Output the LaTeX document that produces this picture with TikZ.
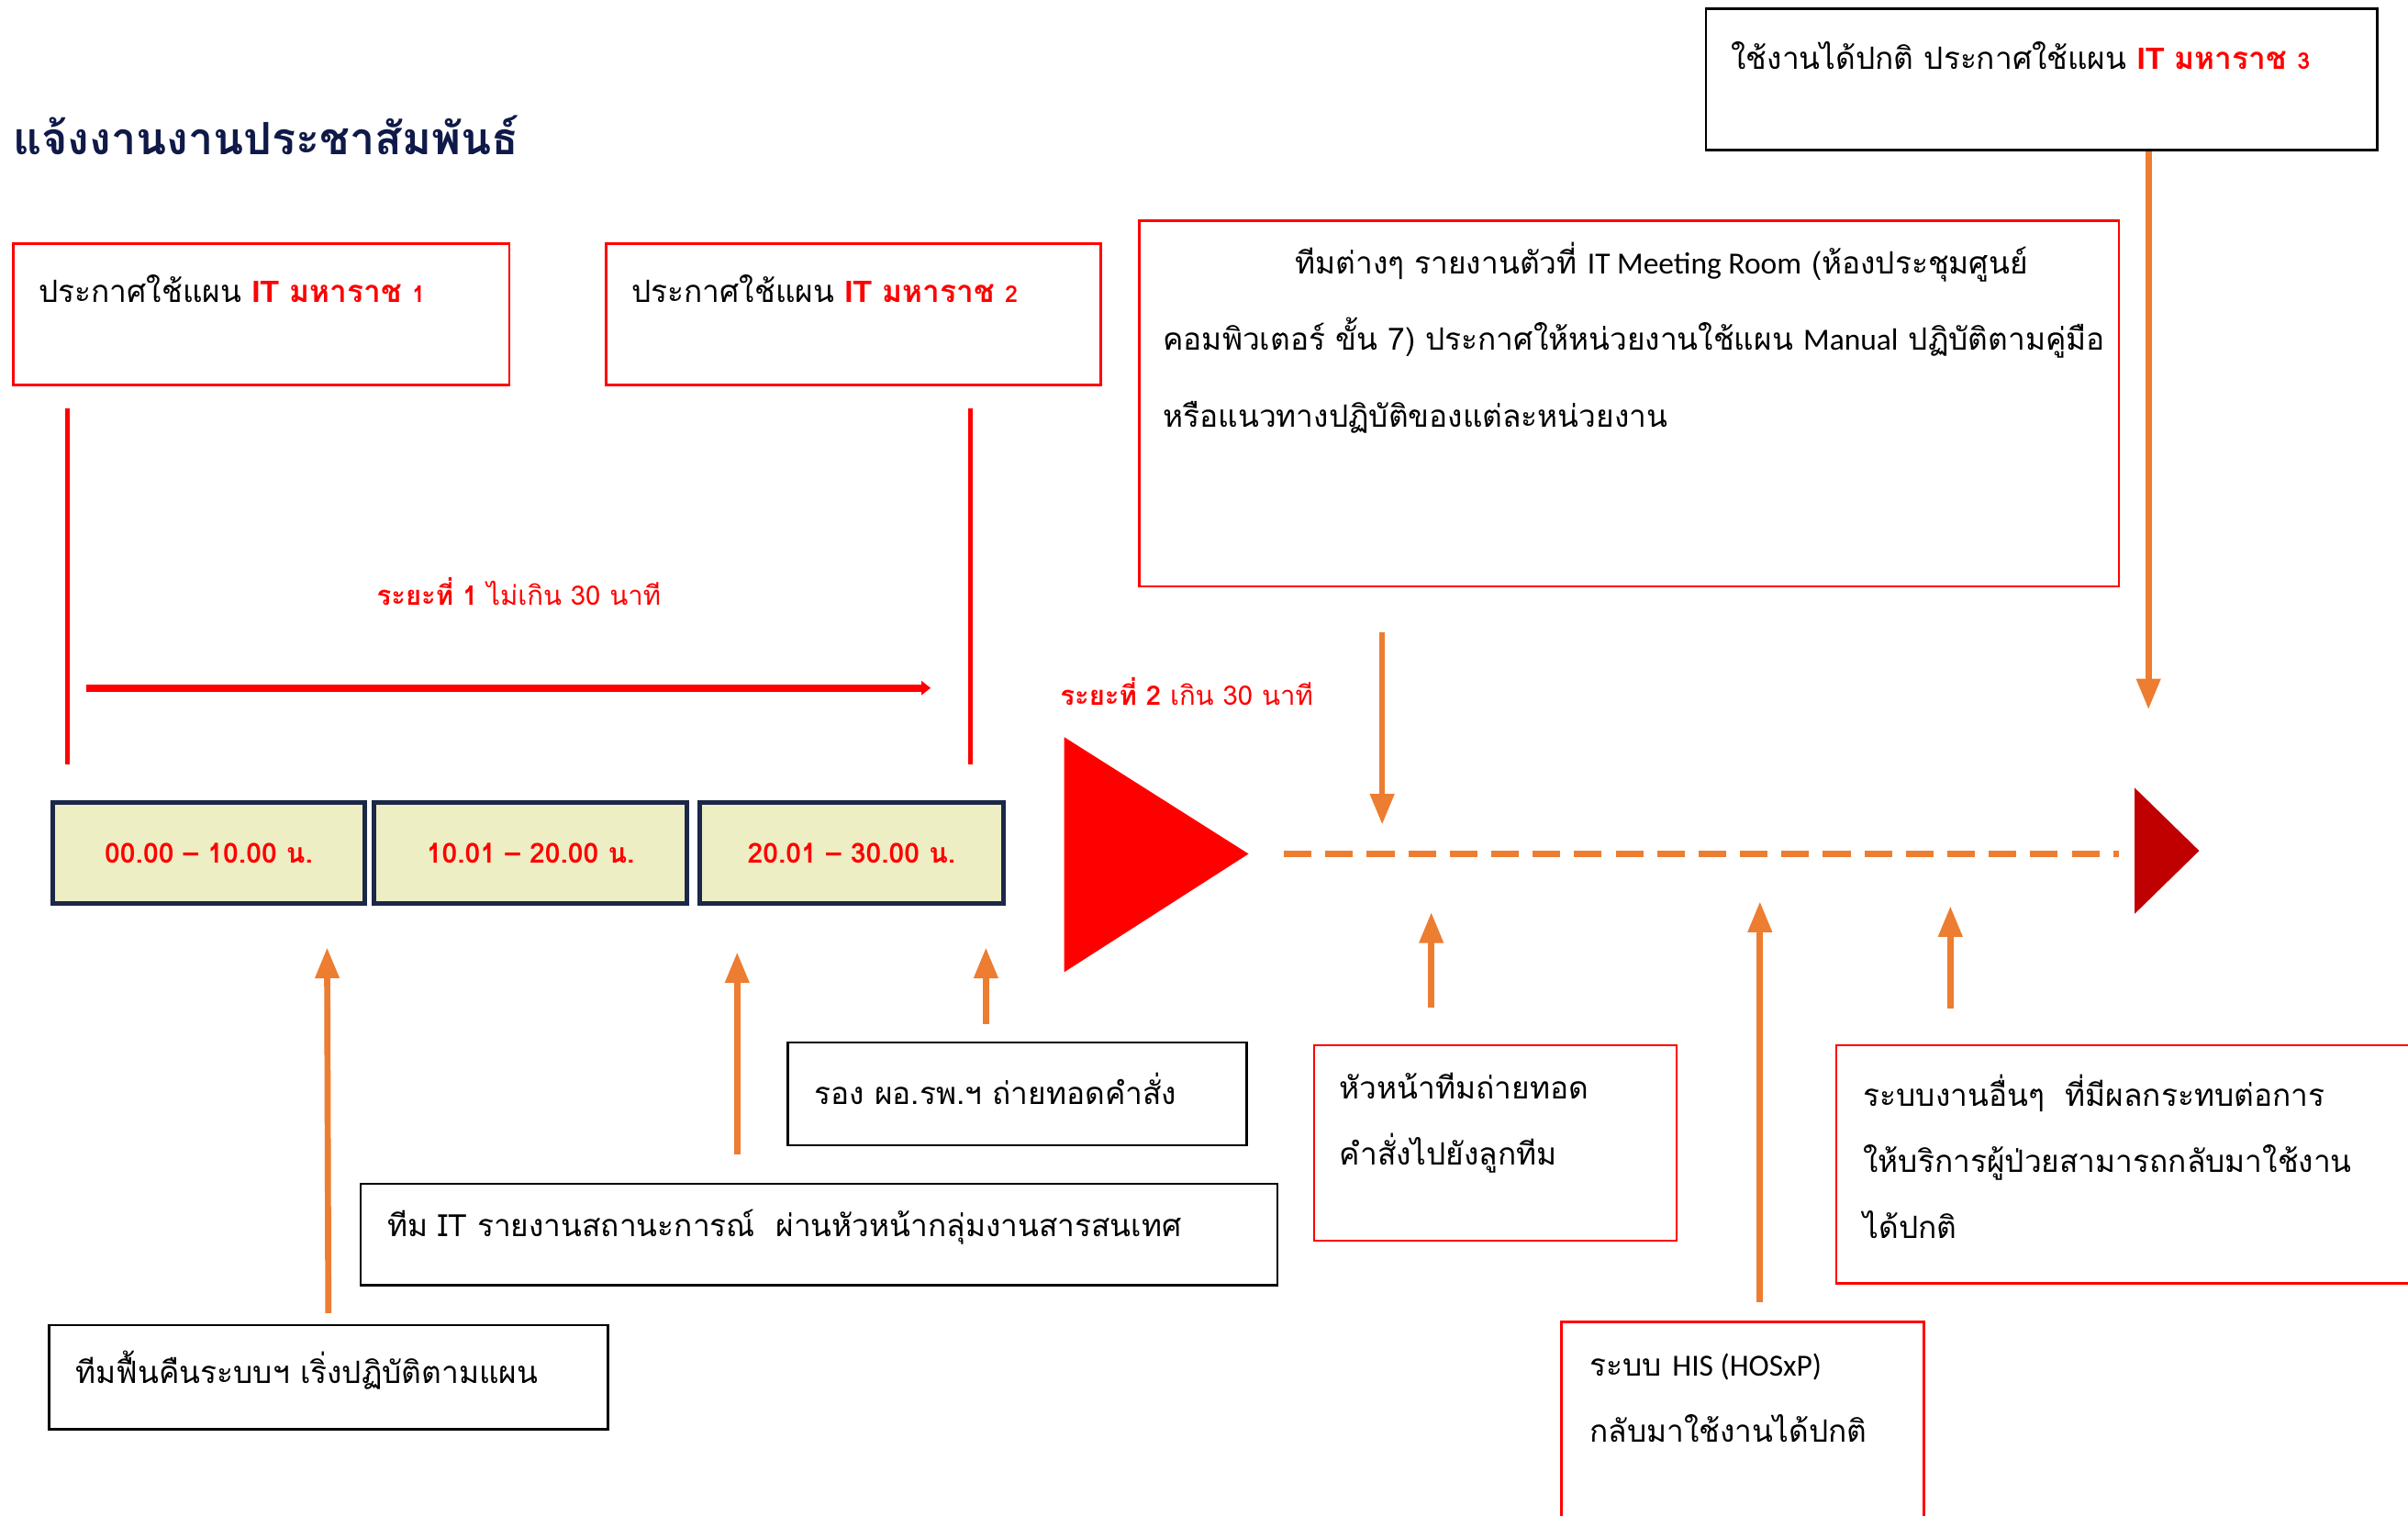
\documentclass[tikz,border=0pt]{standalone}
\usepackage{fontspec}
\setmainfont[Script=Thai]{Loma}
\newfontfamily\latinfont{Carlito}
\newfontfamily\itfont{Liberation Sans}
\usetikzlibrary{arrows.meta,calc}

\definecolor{planred}{RGB}{255,0,0}
\definecolor{arrorange}{RGB}{237,125,49}
\definecolor{darkred}{RGB}{192,0,0}
\definecolor{titlenavy}{RGB}{16,26,72}
\definecolor{slotfill}{RGB}{238,238,196}
\definecolor{slotedge}{RGB}{28,40,72}

\tikzset{every picture/.style={line width=0.75pt}}
\tikzset{
  redbox/.style={draw=planred, line width=1.5pt, inner sep=0pt, anchor=north west},
  blackbox/.style={draw=black, line width=1.6pt, inner sep=0pt, anchor=north west},
  slotbox/.style={draw=slotedge, fill=slotfill, line width=3pt, inner sep=0pt, anchor=north west,
    text=planred, font=\fontsize{18}{20}\selectfont\bfseries},
  txt/.style={anchor=west, inner sep=0pt, align=left, font=\fontsize{20}{43}\selectfont},
  phase/.style={anchor=west, inner sep=0pt, text=planred, font=\fontsize{17.5}{20}\selectfont},
  orarrow/.style={draw=arrorange, line width=4pt, -{Triangle[length=20pt,width=15pt]}},
}
\newcommand{\itplan}[1]{\textcolor{planred}{\bfseries{\itfont IT} มหาราช {\fontsize{15}{15}\selectfont #1}}}

\begin{document}
\begin{tikzpicture}[x=1pt,y=1pt,yscale=-1,xscale=1]
\useasboundingbox (0,0) rectangle (1568,987);

% Title
\node[anchor=west, inner sep=0pt, text=titlenavy, font=\fontsize{29}{32}\selectfont\bfseries] (title) at (8,88) {แจ้งงานงานประชาสัมพันธ์};

%Shape: Rectangle [plan boxes]
\node[redbox, minimum width=323pt, minimum height=92pt] (plan1) at (8,158) {};
\node[redbox, minimum width=322pt, minimum height=92pt] (plan2) at (394,158) {};
\node[blackbox, minimum width=437pt, minimum height=92pt] (plan3) at (1110,5) {};
\node[redbox, minimum width=638pt, minimum height=238pt] (room) at (741,143) {};
% Text Node
\node[txt] (plan1txt) at (25,188) {ประกาศใช้แผน \itplan{1}};
\node[txt] (plan2txt) at (411,188) {ประกาศใช้แผน \itplan{2}};
\node[txt] (plan3txt) at (1127,36) {ใช้งานได้ปกติ ประกาศใช้แผน \itplan{3}};
\node[txt, font=\fontsize{20}{50}\selectfont] (roomtxt) at (757,220) {\hspace*{86pt}ทีมต่างๆ รายงานตัวที่ {\latinfont IT Meeting Room} (ห้องประชุมศูนย์\\คอมพิวเตอร์ ขั้น 7) ประกาศให้หน่วยงานใช้แผน {\latinfont Manual} ปฏิบัติตามคู่มือ\\หรือแนวทางปฏิบัติของแต่ละหน่วยงาน};

% Phase 1 markers
\coordinate (m1top) at (44,266);
\coordinate (m1bot) at (44,498);
\coordinate (m2top) at (632,266);
\coordinate (m2bot) at (632,498);
\draw[planred, line width=3pt] (m1top) -- (m1bot);
\draw[planred, line width=3pt] (m2top) -- (m2bot);
\coordinate (p1start) at (56,448);
\coordinate (p1end) at (606,448);
\draw[planred, line width=5pt, -{Triangle[length=6pt,width=9pt]}] (p1start) -- (p1end);
\node[phase] (phase1) at (245,385) {{\bfseries ระยะที่ 1} ไม่เกิน 30 นาที};
\node[phase] (phase2) at (690,450) {{\bfseries ระยะที่ 2} เกิน 30 นาที};

% Time slots
\node[slotbox, minimum width=203pt, minimum height=66pt] (slot1) at (33,521) {00.00 – 10.00 น.};
\node[slotbox, minimum width=204pt, minimum height=66pt] (slot2) at (242,521) {10.01 – 20.00 น.};
\node[slotbox, minimum width=198pt, minimum height=66pt] (slot3) at (454,521) {20.01 – 30.00 น.};

% Phase 2 timeline
\fill[planred] (693,480) -- (693,633) -- (813,556) -- cycle;
\coordinate (tl0) at (836,556);
\coordinate (tl1) at (1380,556);
\draw[arrorange, line width=4pt, dash pattern=on 18pt off 9pt] (tl0) -- (tl1);
\fill[darkred] (1390,513) -- (1390,595) -- (1432,554) -- cycle;

%Shape: Rectangle [lower boxes]
\node[blackbox, minimum width=299pt, minimum height=67pt] (deputy) at (512,678) {};
\node[blackbox, minimum width=597pt, minimum height=66pt] (itrep) at (234,770) {};
\node[blackbox, minimum width=364pt, minimum height=68pt] (restore) at (31,862) {};
\node[redbox, minimum width=236pt, minimum height=127pt] (leader) at (855,680) {};
\node[redbox, minimum width=236pt, minimum height=140pt] (his) at (1016,860) {};
\node[redbox, minimum width=380pt, minimum height=155pt] (other) at (1195,680) {};
% Text Node
\node[txt] (deputytxt) at (530,709) {รอง ผอ.รพ.ฯ ถ่ายทอดคำสั่ง};
\node[txt] (itreptxt) at (252,799) {ทีม IT รายงานสถานะการณ์~ ผ่านหัวหน้ากลุ่มงานสารสนเทศ};
\node[txt] (restoretxt) at (49,892) {ทีมฟื้นคืนระบบฯ เริ่งปฏิบัติตามแผน};
\node[txt] (leadertxt) at (872,731.5) {หัวหน้าทีมถ่ายทอด\\คำสั่งไปยังลูกทีม};
\node[txt] (histxt) at (1035,910.5) {ระบบ {\latinfont HIS (HOSxP)}\\กลับมาใช้งานได้ปกติ};
\node[txt] (othertxt) at (1213,753) {ระบบงานอื่นๆ~ ที่มีผลกระทบต่อการ\\ให้บริการผู้ป่วยสามารถกลับมาใช้งาน\\ได้ปกติ};

% Arrows
\coordinate (t1) at (213,617);
\coordinate (t2) at (480,620);
\coordinate (t3) at (642,617);
\coordinate (t4) at (932,594);
\coordinate (t5) at (1146,587);
\coordinate (t6) at (1270,590);
\coordinate (t7) at (900,537);
\coordinate (t8) at (1399,462);
\draw[orarrow] ($(restore.north)+(0,-7)$) -- (t1);
\draw[orarrow] ($(itrep.north west)+(246,-18)$) -- (t2);
\draw[orarrow] ($(deputy.north west)+(130,-11)$) -- (t3);
\draw[orarrow] ($(leader.north west)+(77,-24)$) -- (t4);
\draw[orarrow] ($(his.north west)+(130,-12)$) -- (t5);
\draw[orarrow] ($(other.north west)+(75,-23)$) -- (t6);
\draw[orarrow] ($(room.south west)+(159,29)$) -- (t7);
\draw[orarrow] (plan3.south -| t8) -- (t8);

\end{tikzpicture}
\end{document}
